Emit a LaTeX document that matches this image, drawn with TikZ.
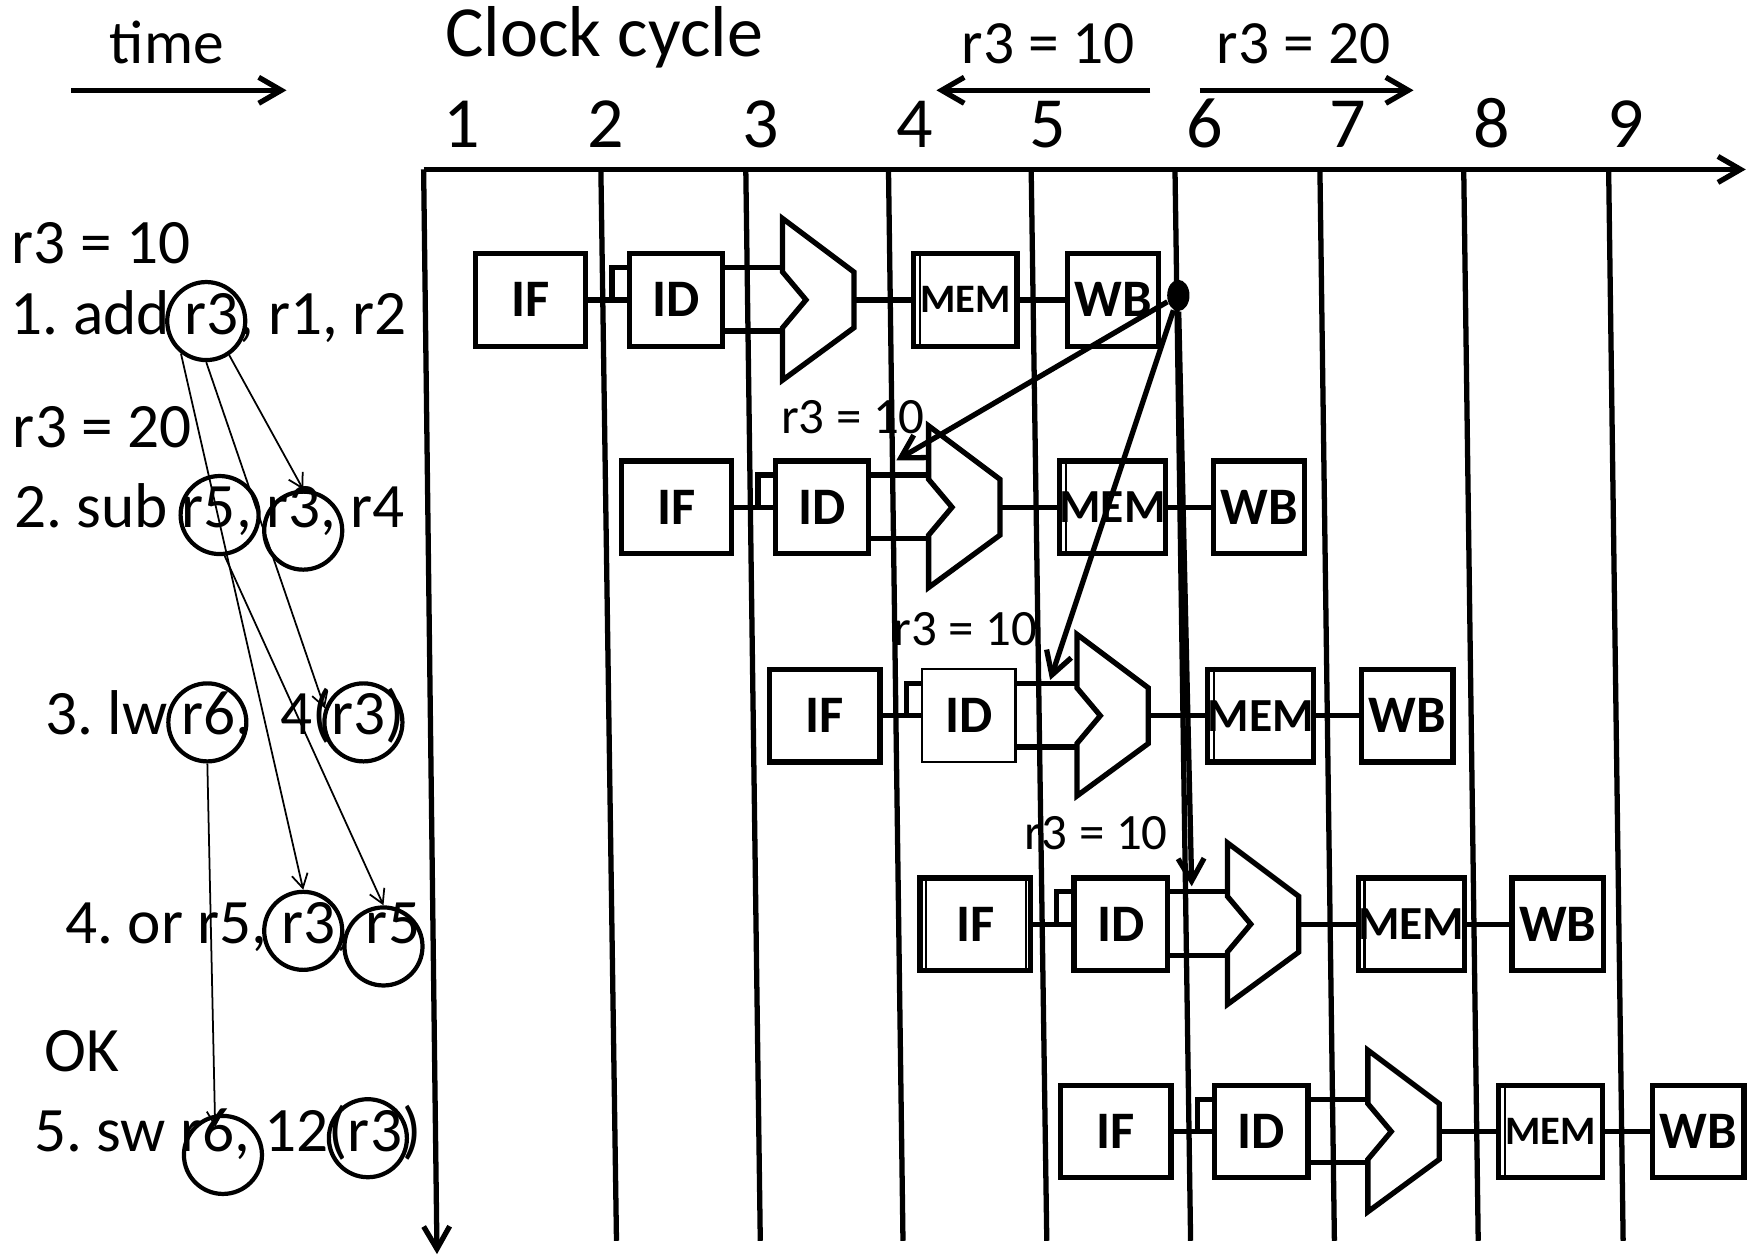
\documentclass[tikz,border=0pt]{standalone}
\usepackage{fontspec}
\setmainfont{Carlito}
\usepackage{tikz}
\usetikzlibrary{arrows.meta,shapes.geometric}
\frenchspacing
\newlength{\gu}
\setlength{\gu}{0.11148mm}
\newcommand{\fsz}[1]{\fontsize{#1}{#1}\selectfont}
\tikzset{
  wire/.style={line width=1.5pt},
  stage/.style={wire, draw, anchor=west, inner sep=0pt, minimum height=83*\gu, font=\fsz{15}\bfseries},
  regc/.style={circle, draw, line width=1.2pt, inner sep=0pt, minimum size=70*\gu},
  joint/.style={ellipse, fill=black, inner sep=0pt, minimum width=20*\gu, minimum height=28*\gu},
  dep/.style={line width=0.5pt, -{Straight Barb[angle=60:1.6mm]}},
  fwd/.style={line width=1.5pt, -{Straight Barb[angle=60:2.6mm]}},
  txt/.style={anchor=base west, inner sep=0pt, font=\fsz{18}},
  note/.style={anchor=base west, inner sep=0pt, font=\fsz{14.5}},
  cyc/.style={anchor=base, inner sep=0pt, font=\fsz{20.5}},
}
% one instruction in the pipeline: row, left end and centre of IF, MEM size, ID options
\newcommand{\pipeline}[5]{%
  \node[stage, minimum width=99*\gu] (if#1) at (#2,#3) {IF};
  \node[stage, minimum width=84*\gu, #5] (id#1) at (#2+138,#3) {ID};
  \coordinate (alua#1) at (#2+278,#3-29);
  \coordinate (alub#1) at (#2+278,#3+28);
  \coordinate (aluo#1) at (#2+342,#3);
  \draw[wire] (#2+278,#3-73) -- (#2+342,#3-25) -- (aluo#1) -- (#2+342,#3+25)
    -- (#2+278,#3+72) -- (#2+278,#3+25) -- (#2+299,#3) -- (#2+278,#3-25) -- cycle;
  \node[stage, minimum width=93*\gu, font=\fsz{#4}\bfseries] (mem#1) at (#2+393,#3) {MEM};
  \node[stage, minimum width=82*\gu] (wb#1) at (#2+531,#3) {WB};
  \draw[line width=0.6pt] ([xshift=8*\gu]mem#1.north west) -- ([xshift=8*\gu]mem#1.south west);
  \draw[wire] (if#1) -- (id#1);
  \draw[wire] (id#1.west) ++(-13,0) |- ++(13,-29);
  \draw[wire] (id#1.east |- alua#1) -- (alua#1);
  \draw[wire] (id#1.east |- alub#1) -- (alub#1);
  \draw[wire] (aluo#1) -- (mem#1);
  \draw[wire] (mem#1) -- (wb#1);
}

\begin{document}
\begin{tikzpicture}[x=0.11148mm, y=-0.11148mm]
  \path[use as bounding box, fill=white] (0,0) rectangle (1568,1127);
  % Axes
  \draw[fwd] (380,152) -- (1566,152);
  \draw[fwd] (380,152) -- (392,1125);
  % Clock edges
  \draw[wire] (539,152) -- (553,1113);
  \draw[wire] (669,152) -- (682,1113);
  \draw[wire] (797,152) -- (810,1113);
  \draw[wire] (925,152) -- (939,1113);
  \draw[wire] (1054,152) -- (1068,1113);
  \draw[wire] (1184,152) -- (1197,1113);
  \draw[wire] (1313,152) -- (1326,1113);
  \draw[wire] (1443,152) -- (1456,1113);
  % Cycle numbers
  \node[txt, font=\fsz{20.5}] (clk) at (399,51) {Clock cycle};
  \node[cyc] (n1) at (414,132) {1};
  \node[cyc] (n2) at (543,132) {2};
  \node[cyc] (n3) at (682,132) {3};
  \node[cyc] (n4) at (821,132) {4};
  \node[cyc] (n5) at (940,132) {5};
  \node[cyc] (n6) at (1081,132) {6};
  \node[cyc] (n7) at (1209,132) {7};
  \node[cyc] (n8) at (1338,132) {8};
  \node[cyc] (n9) at (1458,132) {9};
  % Time and register value arrows
  \node[txt, font=\fsz{17.5}] (time) at (98,57) {time};
  \draw[fwd] (64,81) -- (257,81);
  \node[txt, font=\fsz{17.5}] (old) at (862,57) {r3 = 10};
  \node[txt, font=\fsz{17.5}] (new) at (1091,57) {r3 = 20};
  \draw[fwd] (1032,81) -- (840,81);
  \draw[fwd] (1076,81) -- (1268,81);
  % Instructions
  \node[txt] (l10) at (10,236) {r3 = 10};
  \node[txt] (i1) at (9,300) {1. add r3, r1, r2};
  \node[txt] (l20) at (11,401) {r3 = 20};
  \node[txt] (i2) at (12,473) {2. sub r5, r3, r4};
  \node[txt] (i3) at (40,659) {3. lw r6,\ \ 4(r3)};
  \node[txt] (i4) at (58,846) {4. or r5, r3, r5};
  \node[txt] (ok) at (39,961) {OK};
  \node[txt] (i5) at (30,1033) {5. sw r6, 12(r3)};
  % Registers in use
  \node[regc] (c1) at (185,288) {};
  \node[regc] (c2a) at (197,462) {};
  \node[regc] (c2b) at (272,476) {};
  \node[regc] (c3a) at (186,648) {};
  \node[regc] (c3b) at (326,648) {};
  \node[regc] (c4a) at (272,835) {};
  \node[regc] (c4b) at (344,849) {};
  \node[regc] (c5a) at (200,1036) {};
  \node[regc] (c5b) at (330,1021) {};
  \coordinate (sw6) at (193,1011);
  \draw[dep] (c1.304) -- (c2b.north);
  \draw[dep] (c1.270) -- (c3b.160);
  \draw[dep] (c1.232) -- (c4a.north);
  \draw[dep] (c2a.277) -- (c4b.north);
  \draw[dep] (c3a.south) -- (sw6);
  % Pipeline
  \pipeline{1}{424}{269}{11.5}{}
  \pipeline{2}{555}{455}{13.5}{}
  \pipeline{3}{688}{642}{13.5}{line width=0.6pt}
  \pipeline{4}{823}{829}{13.5}{}
  \pipeline{5}{949}{1015}{11.5}{}
  \draw[line width=0.6pt] ([xshift=8*\gu]if4.north west) -- ([xshift=8*\gu]if4.south west);
  \draw[line width=0.6pt] ([xshift=-6*\gu]if4.north east) -- ([xshift=-6*\gu]if4.south east);
  % Forwarding of r3
  \node[joint] (wbdot) at (1057,265) {};
  \coordinate (fwd2) at (804,413);
  \coordinate (fwd3) at (942,610);
  \coordinate (fwd4) at (1069,795);
  \draw[fwd] (wbdot) -- (fwd2);
  \draw[fwd] (wbdot) -- (fwd3);
  \draw[fwd] (wbdot) -- (fwd4);
  \node[note] (v2) at (700,389) {r3 = 10};
  \node[note] (v3) at (801,579) {r3 = 10};
  \node[note] (v4) at (918,762) {r3 = 10};
\end{tikzpicture}
\end{document}
